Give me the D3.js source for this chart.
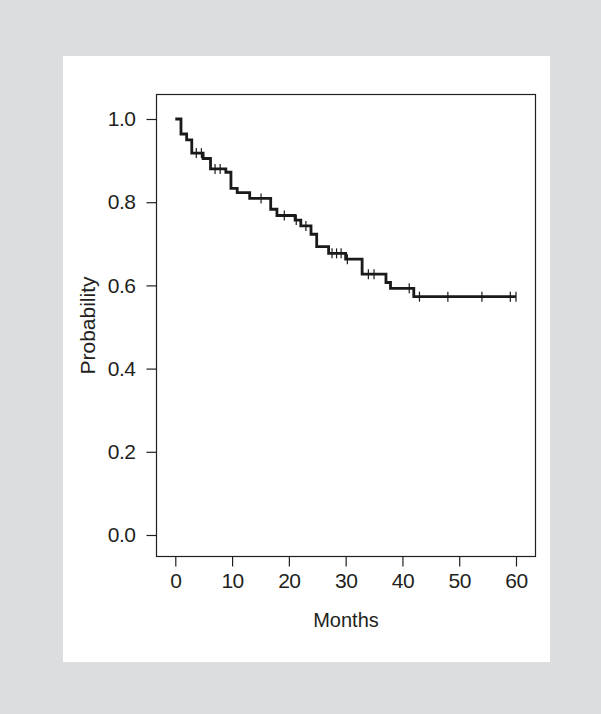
<!DOCTYPE html>
<html>
<head>
<meta charset="utf-8">
<script src="https://cdn.jsdelivr.net/npm/d3@7"></script>
<style>
  body { margin: 0; background: #dcdddf; }
  svg { display: block; }
  text { font-family: "Liberation Sans", Arial, sans-serif; fill: #231f20; }
</style>
</head>
<body>
<div id="svg-container"></div>
<script>
// #Data
const eventTimes = [1.0, 2.0, 2.9, 4.9, 6.2, 8.9, 9.8, 10.9, 13.1, 16.8, 17.9, 21.1, 22.1, 23.9, 24.9, 27.0, 30.0, 32.9, 37.1, 37.9, 42.0];
const survival   = [0.964, 0.950, 0.918, 0.905, 0.880, 0.872, 0.833, 0.823, 0.809, 0.783, 0.768, 0.757, 0.743, 0.723, 0.693, 0.677, 0.663, 0.627, 0.607, 0.593, 0.573];
const censorTimes = [3.7, 4.6, 7.0, 7.9, 15.1, 19.2, 21.3, 23.0, 27.6, 28.4, 29.2, 30.3, 34.0, 35.0, 41.2, 43.0, 48.0, 54.0, 59.0, 60.0];
const xTicks = [0, 10, 20, 30, 40, 50, 60];
const yTicks = [0.0, 0.2, 0.4, 0.6, 0.8, 1.0];
const endTime = 60;

document.addEventListener('DOMContentLoaded', function () {
  const w = 601;
  const h = 714;

  const svg = d3.select('#svg-container')
                .append('svg')
                .attr('width', w)
                .attr('height', h);

  // #White panel
  svg.append('rect')
     .attr('x', 63)
     .attr('y', 56)
     .attr('width', 487)
     .attr('height', 606)
     .attr('fill', '#ffffff');

  // #Scales
  const xScale = d3.scaleLinear().domain([0, 60]).range([175.3, 516]);
  const yScale = d3.scaleLinear().domain([0, 1]).range([535, 119]);

  // #Plot box
  const box = { left: 156.5, right: 535.5, top: 94.5, bottom: 556.5 };
  svg.append('rect')
     .attr('x', box.left)
     .attr('y', box.top)
     .attr('width', box.right - box.left)
     .attr('height', box.bottom - box.top)
     .attr('fill', 'none')
     .attr('stroke', '#231f20')
     .attr('stroke-width', 1.2);

  // #Axes
  const xAxis = d3.axisBottom(xScale)
                  .tickValues(xTicks)
                  .tickSize(10)
                  .tickPadding(7)
                  .tickFormat(d3.format('d'));
  const yAxis = d3.axisLeft(yScale)
                  .tickValues(yTicks)
                  .tickSize(10)
                  .tickPadding(11)
                  .tickFormat(d3.format('.1f'));

  const gx = svg.append('g')
                .attr('transform', 'translate(0,' + box.bottom + ')')
                .call(xAxis);
  const gy = svg.append('g')
                .attr('transform', 'translate(' + box.left + ',0)')
                .call(yAxis);
  [gx, gy].forEach(g => {
    g.select('.domain').remove();
    g.selectAll('line').attr('stroke', '#231f20').attr('stroke-width', 1.2);
    g.selectAll('text')
     .style('font-family', '"Liberation Sans", Arial, sans-serif')
     .style('font-size', '21px')
     .style('letter-spacing', '-0.5px')
     .attr('fill', '#231f20');
  });

  // #Axis titles
  svg.append('text')
     .attr('x', (box.left + box.right) / 2)
     .attr('y', 627)
     .attr('text-anchor', 'middle')
     .style('font-size', '20px')
     .text('Months');
  svg.append('text')
     .attr('transform', 'translate(95,' + (box.top + box.bottom) / 2 + ') rotate(-90)')
     .attr('text-anchor', 'middle')
     .style('font-size', '21px')
     .text('Probability');

  // #Kaplan-Meier step curve
  const steps = [{ t: 0, s: 1 }];
  eventTimes.forEach((t, i) => steps.push({ t: t, s: survival[i] }));
  steps.push({ t: endTime, s: survival[survival.length - 1] });

  const line = d3.line()
                 .x(d => xScale(d.t))
                 .y(d => yScale(d.s))
                 .curve(d3.curveStepAfter);

  svg.append('path')
     .datum(steps)
     .attr('d', line)
     .attr('fill', 'none')
     .attr('stroke', '#1a1a1a')
     .attr('stroke-width', 2.8);

  // #Censor marks
  const survAt = t => {
    let s = 1;
    eventTimes.forEach((e, i) => { if (e <= t) s = survival[i]; });
    return s;
  };
  svg.selectAll('.censor')
     .data(censorTimes)
     .enter()
     .append('line')
     .attr('class', 'censor')
     .attr('x1', d => xScale(d))
     .attr('x2', d => xScale(d))
     .attr('y1', d => yScale(survAt(d)) - 5)
     .attr('y2', d => yScale(survAt(d)) + 5)
     .attr('stroke', '#1a1a1a')
     .attr('stroke-width', 1.2);
});
</script>
</body>
</html>
